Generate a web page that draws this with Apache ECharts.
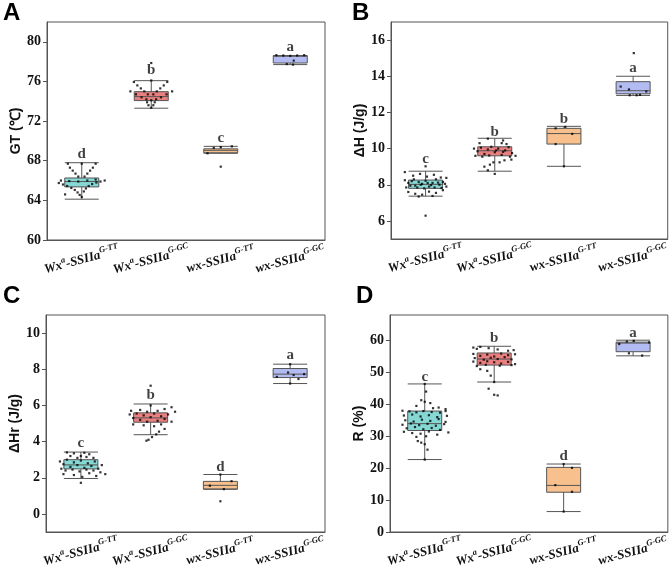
<!DOCTYPE html>
<html>
<head>
<meta charset="utf-8">
<script src="https://cdn.jsdelivr.net/npm/echarts@6/dist/echarts.min.js"></script>
<style>
  html, body { margin: 0; padding: 0; background: #fff; }
  #chart { width: 672px; height: 573px; }
</style>
</head>
<body>
<div id="chart"></div>
<script>
// genotypes, drawn with rich text superscripts
var categories = ['WxaTT', 'WxaGC', 'wxTT', 'wxGC'];
var catLabels = [
  '{m|Wx}{s|a}{m|-SSIIa}{s|G-TT}',
  '{m|Wx}{s|a}{m|-SSIIa}{s|G-GC}',
  '{m|wx-SSIIa}{s|G-TT}',
  '{m|wx-SSIIa}{s|G-GC}'
];
var boxColors = ['#86d8d4', '#ea7f80', '#f8c08c', '#b3bcf2'];

// box stats: [low whisker, Q1, median, Q3, high whisker]
var gtBox = [[64.12, 65.36, 65.9, 66.26, 67.8], [73.3, 74.07, 74.47, 74.97, 76.08], [68.75, 68.8, 69.05, 69.2, 69.45], [77.7, 77.86, 78.55, 78.6, 78.6]];
var dhBox = [[7.37, 7.8, 8.02, 8.26, 8.75], [8.75, 9.6, 9.88, 10.1, 10.57], [9.02, 10.25, 10.83, 11.12, 11.23], [12.94, 13.03, 13.2, 13.7, 14.0]];
var dhrBox = [[1.96, 2.49, 2.71, 3.0, 3.42], [4.38, 5.07, 5.31, 5.59, 6.08], [1.37, 1.37, 1.58, 1.8, 2.18], [7.21, 7.54, 7.73, 8.04, 8.28]];
var rBox = [[22.7, 31.8, 33.96, 37.9, 46.4], [47.0, 52.3, 54.2, 56.1, 58.2], [6.4, 12.46, 14.6, 20.25, 21.3], [55.2, 56.5, 59.2, 59.5, 60.1]];

// significance letters and where they sit
var gtLetters = ['d', 'b', 'c', 'a'];
var gtLetterY = [68.7, 77.1, 70.3, 79.5];
var dhLetters = ['c', 'b', 'b', 'a'];
var dhLetterY = [9.44, 10.93, 11.64, 14.45];
var dhrLetters = ['c', 'b', 'd', 'a'];
var dhrLetterY = [3.92, 6.58, 2.6, 8.77];
var rLetters = ['c', 'b', 'd', 'a'];
var rLetterY = [48.5, 60.7, 23.8, 62.3];

// raw points per genotype: [horizontal offset in category units, value]
var gtPts = [
  [[-0.2,67.7],[-0.17,67.3],[-0.13,67.0],[-0.09,66.7],[-0.05,66.4],[0.2,67.7],[0.16,67.3],[0.12,67.0],[0.08,66.7],[0.04,66.4],[0.0,67.7],
   [-0.33,65.75],[-0.27,65.6],[-0.21,65.45],[-0.15,65.25],[-0.1,65.05],[-0.06,64.8],[-0.03,64.55],
   [0.33,66.0],[0.27,65.9],[0.21,65.8],[0.15,65.65],[0.1,65.45],[0.06,65.2],[0.03,64.9],[0.0,64.35],
   [-0.3,66.0],[-0.18,65.95],[-0.05,65.9],[0.08,66.0],[0.2,66.1],[-0.24,64.6]],
  [[-0.25,75.95],[-0.2,75.6],[-0.15,75.3],[-0.1,75.0],[-0.05,74.7],[0.23,75.95],[0.18,75.6],[0.13,75.3],[0.08,75.0],[0.03,74.7],
   [-0.3,75.0],[-0.22,74.7],[-0.14,74.4],[-0.07,74.2],[0,74.1],[0.07,74.2],[0.14,74.4],[0.22,74.7],[0.3,75.0],
   [-0.06,73.9],[0.05,73.9],[-0.04,73.6],[0.03,73.6],[0,73.35],[0,77.86],[0,76.1]],
  [[0,69.38],[0.16,69.45],[-0.19,68.75],[0,67.4],[-0.1,69.3]],
  [[-0.2,78.65],[-0.1,78.62],[0.0,78.58],[0.1,78.62],[0.2,78.65],[0.05,78.1],[-0.05,77.76],[0.04,77.7]]
];
var dhPts = [
  [[-0.3,8.25],[-0.25,8.1],[-0.2,8.2],[-0.15,7.95],[-0.1,8.15],[-0.05,8.05],[0,8.22],[0.05,7.9],[0.1,8.1],[0.15,8.3],[0.2,8.0],[0.25,8.15],[0.3,7.9],
   [-0.28,7.85],[-0.22,7.95],[-0.17,8.3],[-0.12,7.85],[-0.07,8.0],[-0.02,7.8],[0.03,8.1],[0.08,7.98],[0.13,7.85],[0.18,8.12],[0.23,7.82],[0.28,8.05],
   [-0.3,8.7],[-0.18,8.5],[-0.08,8.6],[0.02,8.45],[0.12,8.55],[0.22,8.4],[0.3,8.38],
   [-0.25,7.6],[-0.15,7.5],[-0.05,7.45],[0.05,7.62],[0.15,7.55],[0.25,7.7],[-0.1,7.35],[0.1,7.38],[0,9.02],[0,6.29]],
  [[-0.3,10.0],[-0.25,9.85],[-0.2,10.05],[-0.15,9.7],[-0.1,9.95],[-0.05,10.1],[0,9.8],[0.05,10.0],[0.1,9.65],[0.15,9.9],[0.2,10.08],[0.25,9.75],[0.3,9.6],
   [-0.28,9.6],[-0.18,9.55],[-0.08,9.62],[0.02,9.9],[0.12,9.82],[0.22,9.55],
   [-0.22,10.3],[0.1,10.3],[0.17,10.25],[0.12,10.45],[-0.1,10.55],
   [-0.07,9.11],[-0.02,9.24],[0.07,9.24],[0.14,9.35],[0.24,9.39],[-0.15,9.0],[-0.1,8.8],[0,8.6]],
  [[-0.12,11.12],[0.12,10.81],[-0.12,10.25],[0.02,11.2],[0,9.02]],
  [[-0.18,13.43],[-0.06,13.27],[0.19,13.16],[-0.05,12.95],[0.05,12.95],[0.1,12.97],[0.01,15.28]]
];
var dhrPts = [
  [[-0.3,2.9],[-0.25,2.75],[-0.2,3.0],[-0.15,2.6],[-0.1,2.85],[-0.05,2.7],[0,2.95],[0.05,2.55],[0.1,2.8],[0.15,2.65],[0.2,2.9],[0.25,2.5],[0.3,2.7],
   [-0.28,2.5],[-0.22,2.4],[-0.12,2.45],[-0.02,2.35],[0.08,2.45],[0.18,2.4],[0.28,2.3],
   [-0.2,3.4],[-0.1,3.35],[0,3.2],[0.05,3.38],[0.12,3.3],[0.18,3.1],[-0.05,3.1],[0.08,3.15],[-0.15,3.2],
   [-0.25,2.2],[-0.1,2.15],[0.02,2.05],[0.12,2.25],[0.22,2.1],[0.35,2.2],[0,1.72]],
  [[-0.3,5.5],[-0.25,5.3],[-0.2,5.55],[-0.15,5.2],[-0.1,5.45],[-0.05,5.1],[0,5.35],[0.05,5.55],[0.1,5.15],[0.15,5.4],[0.2,5.25],[0.25,5.5],[0.3,5.1],
   [-0.28,5.7],[-0.15,5.75],[-0.05,5.65],[0.1,5.7],[0.2,5.8],[0.3,5.9],[0.35,5.65],
   [-0.25,4.95],[-0.1,4.9],[0.05,4.85],[0.15,4.95],[0.2,4.7],[0.12,4.55],[0.08,4.4],[0.02,4.25],[-0.03,4.1],[-0.06,4.05],[0,7.09],[0,6.0]],
  [[-0.15,1.56],[0.16,1.81],[0,0.7],[0,2.18],[0.05,1.37]],
  [[-0.03,7.82],[-0.19,7.58],[0.05,7.68],[0.2,7.73],[0.12,7.46],[0,8.28],[0,7.21]]
];
var rPts = [
  [[0.02,44.0],[-0.05,41.3],[0.0,40.8],[0.08,40.4],[-0.12,39.5],[0.2,39.0],[0.3,38.5],[0.12,38.8],
   [-0.32,38.0],[-0.22,37.8],[-0.12,37.5],[-0.02,37.9],[0.1,37.6],[0.22,37.4],[0.3,37.9],
   [-0.3,36.5],[-0.18,36.8],[-0.06,36.2],[0.06,36.6],[0.18,36.0],[0.32,36.4],
   [-0.28,35.0],[-0.16,34.6],[-0.04,35.2],[0.08,34.8],[0.2,35.4],[0.3,34.5],
   [-0.32,33.6],[-0.2,34.0],[-0.08,33.5],[0.04,33.9],[0.16,33.3],[0.28,33.8],
   [-0.26,32.5],[-0.14,32.9],[-0.02,32.2],[0.1,32.6],[0.22,32.0],[0.34,31.2],
   [-0.3,31.4],[-0.18,31.0],[-0.06,30.8],[0.06,31.5],[0.18,30.5],
   [-0.12,29.8],[0.02,30.0],[-0.1,28.5],[-0.05,28.0],[0.0,27.5],[0.04,25.8],[0,46.4],[0,22.7]],
  [[-0.3,57.8],[-0.25,57.4],[-0.2,58.0],[-0.08,57.6],[0.05,57.2],[0.2,56.8],[0.28,57.0],
   [-0.3,55.8],[-0.2,55.2],[-0.1,55.6],[0,55.0],[0.1,55.9],[0.2,55.4],[0.3,55.7],
   [-0.28,54.5],[-0.15,54.0],[-0.05,54.6],[0.05,54.2],[0.15,54.8],[0.25,54.1],
   [-0.3,53.4],[-0.2,53.0],[-0.1,53.5],[0,53.2],[0.1,52.8],[0.2,53.3],[0.3,52.6],
   [-0.25,52.0],[-0.12,52.4],[0.08,52.1],[0.25,52.3],
   [-0.2,51.0],[-0.1,50.5],[-0.05,49.0],[0.0,47.0],[-0.08,44.9],[0.0,43.0],[0.05,42.8]],
  [[-0.12,14.7],[0.12,20.1],[0.12,12.6],[0,21.3],[0,6.4]],
  [[-0.2,58.9],[0.01,59.9],[0.23,59.4],[-0.06,56.0],[0.13,55.3],[-0.09,59.7]]
];

var gtTicks = [60, 64, 68, 72, 76, 80];
var dhTicks = [6, 8, 10, 12, 14, 16];
var dhrTicks = [0, 2, 4, 6, 8, 10];
var rTicks = [0, 10, 20, 30, 40, 50, 60];

var serif = '"Liberation Serif", "Times New Roman", serif';
var sans = '"Liberation Sans", Arial, sans-serif';
var frame = '#555';

var panels = [
  { name: 'GT (\u2103)', box: gtBox, pts: gtPts, letters: gtLetters, letterY: gtLetterY, ticks: gtTicks, min: 60, max: 82,
    grid: { left: 47, top: 22, width: 278, height: 218 } },
  { name: '\u0394H (J/g)', box: dhBox, pts: dhPts, letters: dhLetters, letterY: dhLetterY, ticks: dhTicks, min: 5, max: 17,
    grid: { left: 391, top: 22, width: 278, height: 217 } },
  { name: '\u0394Hr (J/g)', box: dhrBox, pts: dhrPts, letters: dhrLetters, letterY: dhrLetterY, ticks: dhrTicks, min: -1, max: 11,
    grid: { left: 46, top: 315, width: 279, height: 217 } },
  { name: 'R (%)', box: rBox, pts: rPts, letters: rLetters, letterY: rLetterY, ticks: rTicks, min: 0, max: 68,
    grid: { left: 390, top: 315, width: 279, height: 217 } }
];

var option = {
  animation: false,
  backgroundColor: '#fff',
  grid: [], xAxis: [], yAxis: [], series: [],
  graphic: []
};

panels.forEach(function(p, i) {
  var g = p.grid;
  option.grid.push({ left: g.left, top: g.top, width: g.width, height: g.height,
    show: true, borderColor: frame, borderWidth: 1, backgroundColor: 'transparent' });

  option.xAxis.push({
    type: 'category', gridIndex: i, data: categories,
    axisLine: { onZero: false, lineStyle: { color: frame } },
    axisTick: { alignWithLabel: true, length: 4, lineStyle: { color: frame } },
    axisLabel: {
      interval: 0, rotate: 15, margin: 20, align: 'center', verticalAlign: 'middle',
      formatter: function(v, idx) { return catLabels[idx]; },
      rich: {
        m: { fontFamily: serif, fontStyle: 'italic', fontWeight: 'bold', fontSize: 13, color: '#111' },
        s: { fontFamily: serif, fontStyle: 'italic', fontWeight: 'bold', fontSize: 8.5, color: '#111', padding: [0, 0, 9, 0] }
      }
    }
  });
  // hidden value axis so the points can spread sideways inside each category
  option.xAxis.push({ type: 'value', gridIndex: i, min: -0.5, max: 3.5, show: false,
    axisLine: { onZero: false } });

  option.yAxis.push({
    type: 'value', gridIndex: i, min: p.min, max: p.max,
    name: p.name, nameLocation: 'middle', nameGap: 21,
    nameTextStyle: { fontFamily: sans, fontWeight: 'bold', fontSize: 14, color: '#111' },
    splitLine: { show: false },
    axisLine: { show: true, onZero: false, lineStyle: { color: frame } },
    axisTick: { show: true, length: 4, customValues: p.ticks, lineStyle: { color: frame } },
    axisLabel: { customValues: p.ticks, fontFamily: serif, fontWeight: 'bold', fontSize: 14, color: '#111', margin: 6 }
  });

  option.series.push({
    type: 'boxplot', xAxisIndex: 2 * i, yAxisIndex: i,
    boxWidth: [34, 34],
    data: p.box.map(function(b, k) {
      return { value: b, itemStyle: { color: boxColors[k], borderColor: frame, borderWidth: 1 } };
    })
  });

  var flat = [];
  p.pts.forEach(function(list, k) {
    list.forEach(function(d) { flat.push([k + d[0], d[1]]); });
  });
  option.series.push({
    type: 'scatter', xAxisIndex: 2 * i + 1, yAxisIndex: i,
    symbol: 'rect', symbolSize: 2.2, itemStyle: { color: '#000' },
    data: flat, z: 5
  });

  option.series.push({
    type: 'scatter', xAxisIndex: 2 * i, yAxisIndex: i, symbolSize: 0,
    data: p.letterY.map(function(y, k) { return [k, y]; }),
    label: {
      show: true, position: 'inside',
      formatter: function(prm) { return p.letters[prm.dataIndex]; },
      fontFamily: serif, fontWeight: 'bold', fontSize: 15, color: '#111'
    }, z: 6
  });
});

var tags = [['A', 3, 1], ['B', 352, 1], ['C', 3, 284], ['D', 356, 284]];
tags.forEach(function(t) {
  option.graphic.push({ type: 'text', left: t[1], top: t[2],
    style: { text: t[0], fontFamily: sans, fontWeight: 'bold', fontSize: 24, fill: '#000' } });
});

var chart = echarts.init(document.getElementById('chart'));
chart.setOption(option);
</script>
</body>
</html>
